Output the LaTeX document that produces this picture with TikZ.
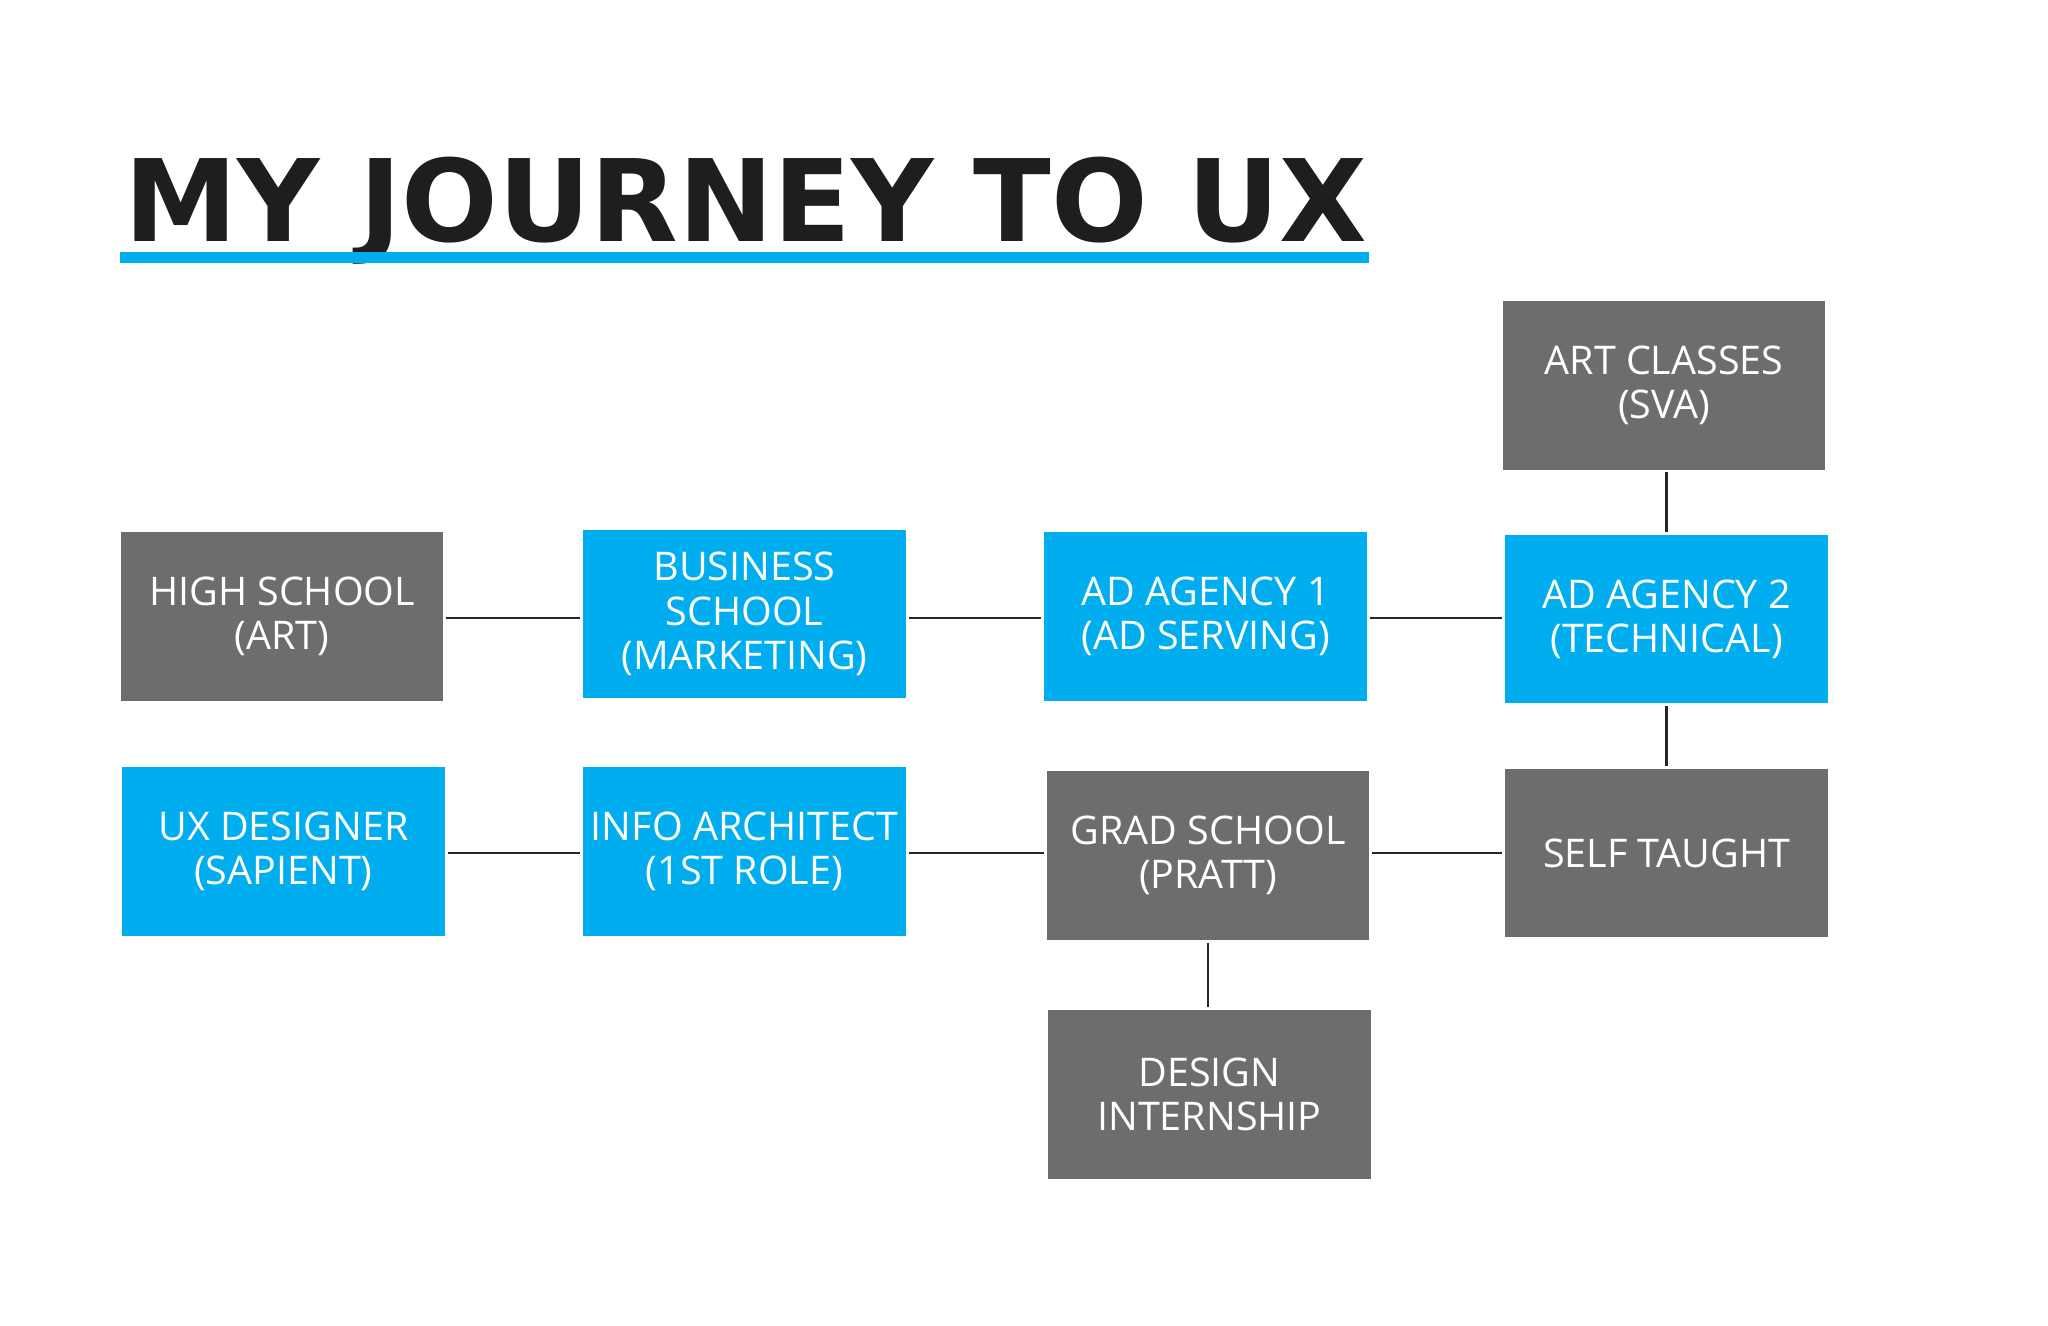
\documentclass[tikz,border=0pt]{standalone}
\usepackage{fontspec}
\setmainfont{Open Sans}
\newfontfamily\titlefont{DejaVu Sans}
\definecolor{cyanbox}{RGB}{0,174,239}
\definecolor{graybox}{RGB}{109,109,111}
\definecolor{titleink}{RGB}{30,30,32}
\tikzset{
  boxbase/.style={minimum width=12.35cm,minimum height=6.45cm,inner sep=0pt,align=center,text=white,
    font=\fontsize{43}{48}\selectfont},
  bluebox/.style={boxbase,fill=cyanbox},
  graybx/.style={boxbase,fill=graybox},
  link/.style={draw=black!85,line width=2.5pt,shorten >=3pt,shorten <=3pt}
}
\begin{document}
\begin{tikzpicture}[x=0.05cm,y=-0.05cm]
\useasboundingbox (0,0) rectangle (1568,1015);
\fill[white] (0,0) rectangle (1568,1015);
\node[anchor=base west,inner sep=0pt,text=titleink] (title) at (95,185)
  {\resizebox{47.6cm}{!}{\titlefont\bfseries MY JOURNEY TO UX}};
\fill[cyanbox] (92,193) rectangle (1048,201);
\node[graybx] (art) at (1274,295) {ART CLASSES\\(SVA)};
\node[graybx] (hs) at (216,472) {HIGH SCHOOL\\(ART)};
\node[bluebox] (bs) at (570,470) {BUSINESS\\SCHOOL\\(MARKETING)};
\node[bluebox] (ad1) at (923,472) {AD AGENCY 1\\(AD SERVING)};
\node[bluebox] (ad2) at (1276,474) {AD AGENCY 2\\(TECHNICAL)};
\node[bluebox] (ux) at (217,652) {UX DESIGNER\\(SAPIENT)};
\node[bluebox] (ia) at (570,652) {INFO ARCHITECT\\(1ST ROLE)};
\node[graybx] (gs) at (925,655) {GRAD SCHOOL\\(PRATT)};
\node[graybx] (st) at (1276,653) {SELF TAUGHT};
\node[graybx] (di) at (926,838) {DESIGN\\INTERNSHIP};
\draw[link] (hs.east |- 0,473) -- (bs.west |- 0,473);
\draw[link] (bs.east |- 0,473) -- (ad1.west |- 0,473);
\draw[link] (ad1.east |- 0,473) -- (ad2.west |- 0,473);
\draw[link] (ux.east |- 0,653) -- (ia.west |- 0,653);
\draw[link] (ia.east |- 0,653) -- (gs.west |- 0,653);
\draw[link] (gs.east |- 0,653) -- (st.west |- 0,653);
\draw[link] (art.south -| 1276,0) -- (ad2.north);
\draw[link] (ad2.south) -- (st.north -| 1276,0);
\draw[link] (gs.south) -- (di.north -| 925,0);
\end{tikzpicture}
\end{document}
